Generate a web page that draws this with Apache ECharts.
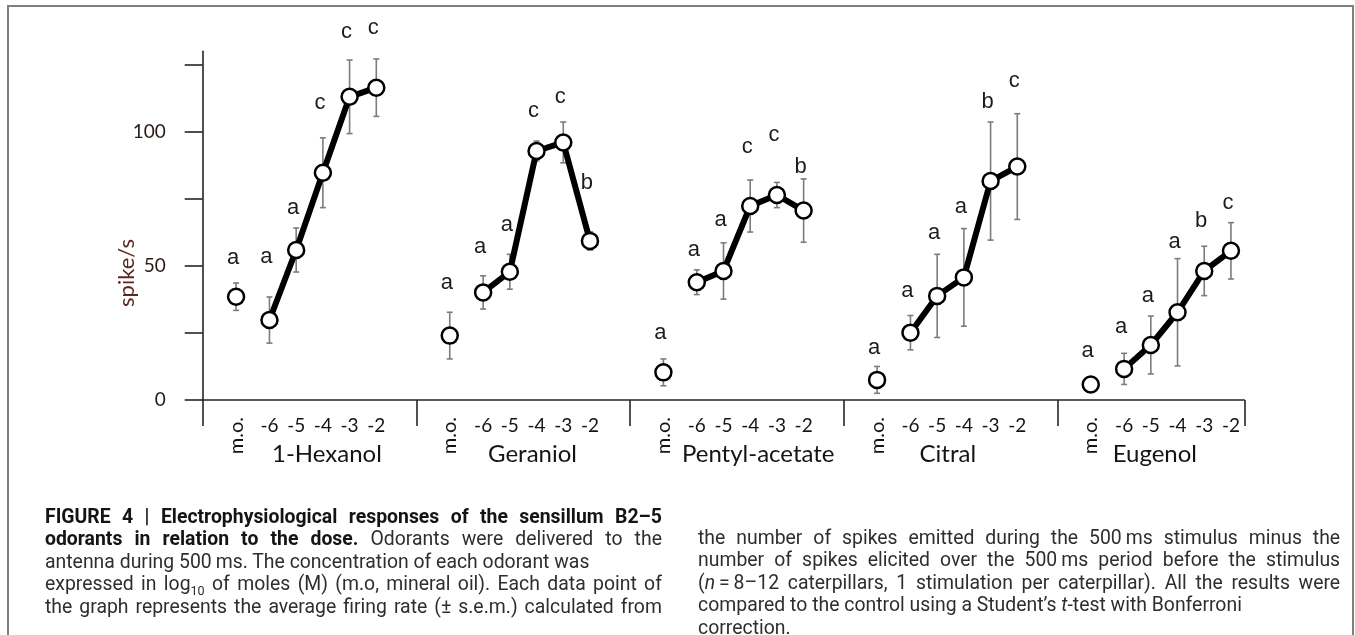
<!DOCTYPE html>
<html>
<head>
<meta charset="utf-8">
<script src="https://cdn.jsdelivr.net/npm/echarts@6/dist/echarts.min.js"></script>
<style>
  html, body { margin: 0; padding: 0; background: #fff; }
  #wrap { position: relative; width: 1355px; height: 635px; overflow: hidden; background: #fff; }
  #chart { position: absolute; left: 0; top: 0; width: 1355px; height: 635px; }
  .frame { position: absolute; left: 7px; top: 5px; width: 1347px; height: 700px;
           box-sizing: border-box; border: 2px solid #7f7f7f; border-bottom: none; }
  .col { position: absolute; font-family: Roboto, "Liberation Sans", sans-serif;
         font-size: 20px; line-height: 22.4px; color: #2e2e2e;
         transform: scaleX(0.97); transform-origin: 0 0; }
  .col div { height: 22.4px; text-align: justify; text-align-last: justify; white-space: nowrap; }
  .col div.rag { text-align: left; text-align-last: left; }
  .col b { color: #141414; }
  .col sub { font-size: 13px; vertical-align: baseline; position: relative; top: 5px; }
</style>
</head>
<body>
<div id="wrap">
  <div id="chart"></div>
  <div class="frame"></div>
  <div class="col" style="left:45px; top:505px; width:636px;">
    <div><b>FIGURE 4 | Electrophysiological responses of the sensillum B2–5</b></div>
    <div><b>odorants in relation to the dose.</b> Odorants were delivered to the</div>
    <div class="rag">antenna during 500&#8201;ms. The concentration of each odorant was</div>
    <div>expressed in log<sub>10</sub> of moles (M) (m.o, mineral oil). Each data point of</div>
    <div>the graph represents the average firing rate (± s.e.m.) calculated from</div>
  </div>
  <div class="col" style="left:698px; top:526px; width:662px;">
    <div>the number of spikes emitted during the 500&#8201;ms stimulus minus the</div>
    <div>number of spikes elicited over the 500&#8201;ms period before the stimulus</div>
    <div>(<i>n</i>&#8201;=&#8201;8–12 caterpillars, 1 stimulation per caterpillar). All the results were</div>
    <div class="rag">compared to the control using a Student’s <i>t</i>-test with Bonferroni</div>
    <div class="rag">correction.</div>
  </div>
</div>
<script>
// odorants and doses (log10 M), m.o. = mineral oil control
const groupNames = ['1-Hexanol', 'Geraniol', 'Pentyl-acetate', 'Citral', 'Eugenol'];
const doseLabels = ['m.o.', '-6', '-5', '-4', '-3', '-2'];

// mean firing rate (spike/s), s.e.m., significance letter and letter height
const hexanolMean = [38.5, 29.8, 55.9, 84.7, 113.0, 116.4];
const hexanolSem = [5.1, 8.6, 8.2, 13.0, 13.7, 10.7];
const hexanolSig = ['a', 'a', 'a', 'c', 'c', 'c'];
const hexanolSigAt = [52.9, 53.3, 71.7, 110.7, 137.3, 138.5];

const geraniolMean = [24.0, 40.1, 47.8, 92.8, 96.0, 59.3];
const geraniolSem = [8.7, 6.2, 6.5, 3.7, 7.6, 3.4];
const geraniolSig = ['a', 'a', 'a', 'c', 'c', 'b'];
const geraniolSigAt = [43.5, 57.1, 65.2, 107.8, 112.8, 80.8];

const pentylMean = [10.3, 43.9, 48.1, 72.3, 76.4, 70.6];
const pentylSem = [5.0, 4.6, 10.5, 9.7, 4.7, 11.8];
const pentylSig = ['a', 'a', 'a', 'c', 'c', 'b'];
const pentylSigAt = [25.1, 55.9, 67.1, 94.4, 98.8, 87.0];

const citralMean = [7.5, 25.1, 38.8, 45.7, 81.6, 87.0];
const citralSem = [5.0, 6.4, 15.5, 18.2, 22.0, 19.7];
const citralSig = ['a', 'a', 'a', 'a', 'b', 'c'];
const citralSigAt = [19.5, 40.7, 62.1, 72.1, 111.2, 118.9];

const eugenolMean = [5.8, 11.6, 20.5, 32.7, 48.1, 55.6];
const eugenolSem = [1.0, 5.8, 10.8, 20.0, 9.2, 10.5];
const eugenolSig = ['a', 'a', 'a', 'a', 'b', 'c'];
const eugenolSigAt = [18.3, 27.1, 38.9, 58.8, 66.7, 73.5];

const yTicks = [0, 25, 50, 75, 100, 125];
const yTickLabels = [0, 50, 100];

// layout of the x axis: each odorant block is 8 units wide (last one 7)
const blockWidth = 8;
const slots = [1.25, 2.5, 3.5, 4.5, 5.5, 6.5];
const nameSlots = [4.65, 4.35, 4.8, 3.9, 3.65];
const xMax = 39;

const means = [hexanolMean, geraniolMean, pentylMean, citralMean, eugenolMean];
const sems = [hexanolSem, geraniolSem, pentylSem, citralSem, eugenolSem];
const sigs = [hexanolSig, geraniolSig, pentylSig, citralSig, eugenolSig];
const sigAts = [hexanolSigAt, geraniolSigAt, pentylSigAt, citralSigAt, eugenolSigAt];

const xOf = (g, i) => g * blockWidth + slots[i];

const groupEdges = groupNames.map((_, g) => g * blockWidth).concat([xMax]);
const dosePos = [];
const doseText = {};
const moPos = [];
const namePos = [];
const nameText = {};
groupNames.forEach((name, g) => {
  doseLabels.forEach((lab, i) => {
    if (i === 0) moPos.push(xOf(g, 0));
    else { dosePos.push(xOf(g, i)); doseText[xOf(g, i)] = lab; }
  });
  const p = g * blockWidth + nameSlots[g];
  namePos.push(p);
  nameText[p] = name;
});

const errData = [];
const sigData = [];
const sigLetters = [];
groupNames.forEach((_, g) => {
  doseLabels.forEach((_, i) => {
    errData.push([xOf(g, i), means[g][i], sems[g][i]]);
    sigData.push([xOf(g, i), sigAts[g][i]]);
    sigLetters.push(sigs[g][i]);
  });
});

const axisColor = '#2b2226';
const labelFont = 'Lato';
const pointStyle = { color: '#ffffff', borderColor: '#000000', borderWidth: 2.5, opacity: 1 };

const chart = echarts.init(document.getElementById('chart'));

const series = [];
series.push({
  type: 'custom',
  z: 1,
  clip: false,
  data: errData,
  renderItem: (params, api) => {
    const x = api.value(0), m = api.value(1), e = api.value(2);
    const top = api.coord([x, m + e]);
    const bot = api.coord([x, m - e]);
    const style = { stroke: '#7c7c7c', lineWidth: 1.6 };
    return {
      type: 'group',
      children: [
        { type: 'line', shape: { x1: top[0], y1: top[1], x2: bot[0], y2: bot[1] }, style },
        { type: 'line', shape: { x1: top[0] - 3, y1: top[1], x2: top[0] + 3, y2: top[1] }, style },
        { type: 'line', shape: { x1: bot[0] - 3, y1: bot[1], x2: bot[0] + 3, y2: bot[1] }, style }
      ]
    };
  }
});

groupNames.forEach((name, g) => {
  series.push({
    name: name,
    type: 'line',
    z: 3,
    data: doseLabels.slice(1).map((_, k) => [xOf(g, k + 1), means[g][k + 1]]),
    symbol: 'circle',
    symbolSize: 16,
    showAllSymbol: true,
    itemStyle: pointStyle,
    lineStyle: { color: '#000000', width: 6 },
    emphasis: { disabled: true }
  });
});

series.push({
  type: 'scatter',
  z: 4,
  data: groupNames.map((_, g) => [xOf(g, 0), means[g][0]]),
  symbol: 'circle',
  symbolSize: 16,
  itemStyle: pointStyle,
  emphasis: { disabled: true }
});

series.push({
  type: 'custom',
  z: 5,
  clip: false,
  data: sigData,
  renderItem: (params, api) => {
    const p = api.coord([api.value(0), api.value(1)]);
    return {
      type: 'text',
      x: p[0] - 3,
      y: p[1],
      style: {
        text: sigLetters[params.dataIndex],
        font: '22px "Liberation Sans", Arial, sans-serif',
        fill: '#1c1c1c',
        align: 'center',
        verticalAlign: 'middle'
      }
    };
  }
});

chart.setOption({
  animation: false,
  backgroundColor: 'transparent',
  grid: { left: 202.7, right: 110.7, top: 51.2, bottom: 235, containLabel: false, outerBoundsMode: 'none' },
  xAxis: [
    {
      type: 'value', min: 0, max: xMax, position: 'bottom',
      axisLine: { show: true, onZero: false, lineStyle: { color: axisColor, width: 1.6 } },
      axisTick: { show: true, customValues: groupEdges, length: 26, lineStyle: { color: axisColor, width: 1.6 } },
      axisLabel: {
        customValues: dosePos, formatter: v => doseText[v] || '',
        margin: 16, fontSize: 19, fontFamily: labelFont, color: '#141414'
      },
      splitLine: { show: false }
    },
    {
      type: 'value', min: 0, max: xMax, position: 'bottom',
      axisLine: { show: false }, axisTick: { show: false },
      axisLabel: {
        customValues: moPos, formatter: () => doseLabels[0], rotate: 90,
        margin: 17, fontSize: 20, fontFamily: labelFont, color: '#141414'
      },
      splitLine: { show: false }
    },
    {
      type: 'value', min: 0, max: xMax, position: 'bottom',
      axisLine: { show: false }, axisTick: { show: false },
      axisLabel: {
        customValues: namePos, formatter: v => nameText[v] || '',
        margin: 42, fontSize: 24, fontFamily: labelFont, color: '#141414'
      },
      splitLine: { show: false }
    }
  ],
  yAxis: {
    type: 'value', min: 0, max: 130,
    axisLine: { show: true, lineStyle: { color: axisColor, width: 1.6 } },
    axisTick: { show: true, customValues: yTicks, length: 18, lineStyle: { color: axisColor, width: 1.6 } },
    axisLabel: {
      customValues: yTickLabels, margin: 37, fontSize: 19, fontFamily: labelFont, color: '#2a1a17'
    },
    splitLine: { show: false }
  },
  graphic: [
    {
      type: 'text', x: 127, y: 273, rotation: Math.PI / 2,
      style: { text: 'spike/s', font: '22px Lato', fill: '#5a2a1f', align: 'center', verticalAlign: 'middle' }
    }
  ],
  series: series
});
</script>
</body>
</html>
